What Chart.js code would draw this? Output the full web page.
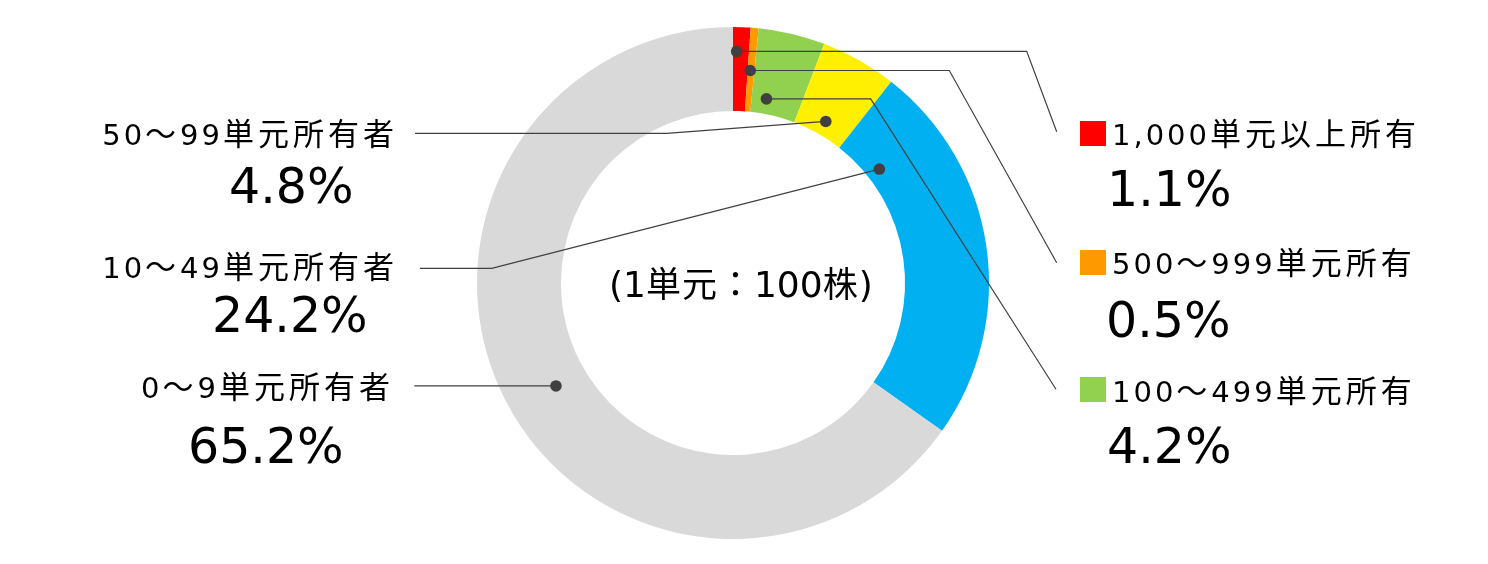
<!DOCTYPE html>
<html>
<head>
<meta charset="utf-8">
<script src="https://cdn.jsdelivr.net/npm/chart.js@4"></script>
<style>
  html, body { margin: 0; padding: 0; background: #fff; }
  .chart { position: relative; width: 1488px; height: 564px; }
</style>
</head>
<body>
<div class="chart"><canvas></canvas></div>
<script>
// data
const categories = [
  "1,000単元以上所有",
  "500～999単元所有",
  "100～499単元所有",
  "50～99単元所有者",
  "10～49単元所有者",
  "0～9単元所有者",
];
const shares = [1.1, 0.5, 4.2, 4.8, 24.2, 65.2];
const centerNote = "(1単元：100株)";

const sliceColors = ["#ff0000", "#ff9900", "#92d050", "#ffef00", "#00b0f0", "#d9d9d9"];

// where each leader dot sits inside its slice: [fraction along the arc, fraction across the ring]
const anchors = [
  [0.23, 0.71],
  [0.38, 0.49],
  [0.30, 0.18],
  [0.52, 0.17],
  [0.16, 0.16],
  [0.488, 0.39],
];

// label layout: leader bend points, name / value positions
const labelLayout = [
  { side: "right", path: [[1026.7, null], [1056.7, 131.7]], box: 121, nameY: 145, valX: 1107, valY: 206 },
  { side: "right", path: [[949.3, null], [1056.7, 262.7]], box: 250, nameY: 274, valX: 1106, valY: 337 },
  { side: "right", path: [[870.7, null], [1056, 389.3]], box: 377, nameY: 401.5, valX: 1107, valY: 462.5 },
  { side: "left", path: [[666.7, 133.3], [415, 133.3]], nameX: 394, nameY: 145, valX: 229, valY: 203.3 },
  { side: "left", path: [[491.7, 268.3], [420, 268.3]], nameX: 394, nameY: 278.3, valX: 212, valY: 331.7 },
  { side: "left", path: [[414.3, null]], nameX: 390, nameY: 398.3, valX: 188, valY: 463.3 },
];

const LATIN = '"DejaVu Sans", "Noto Sans CJK JP", sans-serif';
const CJK = '"Noto Sans CJK JP", "DejaVu Sans", sans-serif';

// draw text char by char so latin and CJK glyphs can get their own sizes and tracking
function drawMixed(ctx, text, x, y, align, latinPx, cjkPx, latinGap, cjkGap) {
  const chars = Array.from(text);
  const isLatin = (ch) => ch.codePointAt(0) < 0x2000;
  const fontFor = (ch) => (isLatin(ch) ? latinPx + "px " + LATIN : cjkPx + "px " + CJK);
  let total = 0;
  const adv = chars.map((ch) => {
    ctx.font = fontFor(ch);
    const a = ctx.measureText(ch).width + (isLatin(ch) ? latinGap : cjkGap);
    total += a;
    return a;
  });
  total -= isLatin(chars[chars.length - 1]) ? latinGap : cjkGap;
  let cx = align === "right" ? x - total : align === "center" ? x - total / 2 : x;
  chars.forEach((ch, i) => {
    ctx.font = fontFor(ch);
    ctx.fillText(ch, cx, y);
    cx += adv[i];
  });
}

const labelsPlugin = {
  id: "leaderLabels",
  afterDraw(chart) {
    const ctx = chart.ctx;
    const arcs = chart.getDatasetMeta(0).data;
    ctx.save();
    ctx.textBaseline = "alphabetic";
    ctx.textAlign = "left";

    arcs.forEach((arc, i) => {
      const p = arc.getProps(["x", "y", "startAngle", "endAngle", "innerRadius", "outerRadius"], true);
      const [fa, fr] = anchors[i];
      const ang = p.startAngle + (p.endAngle - p.startAngle) * fa;
      const r = p.innerRadius + (p.outerRadius - p.innerRadius) * fr;
      const dx = p.x + Math.cos(ang) * r;
      const dy = p.y + Math.sin(ang) * r;
      const lay = labelLayout[i];

      // leader line
      ctx.strokeStyle = "#404040";
      ctx.lineWidth = 1.2;
      ctx.beginPath();
      ctx.moveTo(dx, dy);
      lay.path.forEach(([px, py]) => ctx.lineTo(px, py === null ? dy : py));
      ctx.stroke();

      // dot
      ctx.fillStyle = "#404040";
      ctx.beginPath();
      ctx.arc(dx, dy, 5.8, 0, Math.PI * 2);
      ctx.fill();

      const value = shares[i].toFixed(1) + "%";
      if (lay.side === "right") {
        ctx.fillStyle = sliceColors[i];
        ctx.fillRect(1080, lay.box, 26, 25);
        ctx.fillStyle = "#000";
        drawMixed(ctx, categories[i], 1112, lay.nameY, "left", 29, 31, 3, 4);
      } else {
        ctx.fillStyle = "#000";
        drawMixed(ctx, categories[i], lay.nameX, lay.nameY, "right", 29, 31, 3, 4);
      }
      ctx.font = "49px " + LATIN;
      ctx.fillText(value, lay.valX, lay.valY);
    });

    ctx.fillStyle = "#000";
    drawMixed(ctx, centerNote, 609, 296.7, "left", 36, 35, 0, 1);
    ctx.restore();
  },
};

new Chart(document.querySelector(".chart canvas").getContext("2d"), {
  type: "doughnut",
  data: {
    labels: categories,
    datasets: [
      {
        data: shares,
        backgroundColor: sliceColors,
        borderWidth: 0,
      },
    ],
  },
  options: {
    animation: false,
    responsive: true,
    maintainAspectRatio: false,
    cutout: "67.2%",
    layout: {
      padding: { left: 477, right: 499, top: 27, bottom: 25 },
    },
    plugins: {
      legend: { display: false },
      tooltip: { enabled: false },
    },
  },
  plugins: [labelsPlugin],
});
</script>
</body>
</html>
